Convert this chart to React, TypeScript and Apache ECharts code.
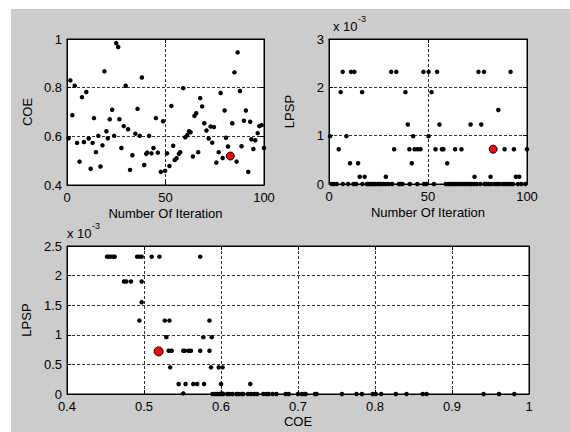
import React, { useEffect, useRef } from "react";
import * as echarts from "echarts";

// ---------- data ----------
// COE of each iteration (iteration, COE)
const coeByIteration: [number, number][] = [
  [0.8, 0.592], [1.7, 0.83], [2.7, 0.687], [3.9, 0.808], [5.1, 0.573], [6.4, 0.496],
  [7.6, 0.761], [8.6, 0.577], [9.8, 0.782], [11, 0.591], [12, 0.467], [13, 0.573],
  [13.7, 0.675], [14.7, 0.535], [15.9, 0.602], [17, 0.476], [18, 0.563], [19, 0.867],
  [20, 0.621], [20.7, 0.592], [21.7, 0.67], [22.9, 0.709], [23.9, 0.602], [25, 0.983],
  [26, 0.967], [26.6, 0.67], [27.6, 0.552], [28.8, 0.642], [29.8, 0.808], [31, 0.629],
  [32, 0.462], [33.2, 0.522], [34.7, 0.611], [35.8, 0.713], [36.9, 0.602], [38, 0.842],
  [39.2, 0.482], [40.2, 0.528], [40.7, 0.533], [41.7, 0.602], [42.9, 0.53], [43.9, 0.552],
  [45.1, 0.675], [46.1, 0.533], [47.6, 0.454], [48.8, 0.662], [49.8, 0.458], [50.8, 0.53],
  [52, 0.478], [53, 0.725], [53.9, 0.561], [54.7, 0.503], [55.6, 0.51], [56.8, 0.528],
  [57.5, 0.535], [59, 0.798], [60, 0.596], [61, 0.605], [62, 0.621], [62.7, 0.617],
  [63.9, 0.517], [64.7, 0.684], [65.6, 0.695], [66.6, 0.535], [67.6, 0.757], [68.6, 0.723],
  [69.7, 0.654], [70.8, 0.624], [71.9, 0.591], [72.9, 0.64], [73.7, 0.574], [74.6, 0.638],
  [75.8, 0.492], [77, 0.535], [78, 0.778], [79, 0.511], [80, 0.706], [80.7, 0.594],
  [81.7, 0.558], [83.9, 0.654], [85, 0.863], [86.1, 0.496], [86.6, 0.945], [87.8, 0.786],
  [88.6, 0.559], [89.8, 0.664], [90.8, 0.706], [92, 0.454], [93, 0.66], [93.6, 0.588],
  [94.6, 0.548], [95.6, 0.584], [96.8, 0.613], [97.6, 0.642], [98.8, 0.646], [100, 0.552],
];

// LPSP (x 10^-3) of each iteration (iteration, LPSP)
const lpspByIteration: [number, number][] = [
  [6.9, 2.32], [11.1, 2.32], [12.8, 2.32], [31.4, 2.32], [34, 2.32], [47.7, 2.32],
  [50.3, 2.32], [54.6, 2.32], [75.5, 2.32], [78.3, 2.32], [91.7, 2.32],
  [5.9, 1.9], [16.7, 1.9], [38.6, 1.9], [51.8, 1.9],
  [85.5, 1.53],
  [39.8, 1.23], [55.8, 1.23], [71.5, 1.23], [76.9, 1.23],
  [0.5, 0.99], [8.8, 0.99], [42.5, 0.99], [50.3, 0.99],
  [4.9, 0.72], [32.9, 0.72], [40.6, 0.72], [43.2, 0.72], [44.7, 0.72], [46.2, 0.72],
  [53.8, 0.72], [57, 0.72], [57.8, 0.72], [63.7, 0.72], [66.9, 0.72], [88.7, 0.72],
  [93.4, 0.72], [100, 0.72],
  [10.6, 0.43], [14.7, 0.43], [41.8, 0.43], [59.7, 0.43],
  [15.5, 0.15], [18, 0.15], [28.7, 0.15], [73.5, 0.15], [81.6, 0.15], [94.4, 0.15], [96.1, 0.15],
  [1.4, 0], [2.5, 0], [3.9, 0], [7, 0], [9.7, 0], [12.4, 0], [13.7, 0], [16.9, 0],
  [19.2, 0], [20, 0], [20.8, 0], [21.7, 0], [22.5, 0], [23.4, 0], [24.6, 0], [25.6, 0],
  [26.4, 0], [27.6, 0], [28.8, 0], [30.2, 0], [31.9, 0], [35.3, 0], [36.1, 0], [37.1, 0],
  [40.8, 0], [44.6, 0], [48, 0], [49.2, 0], [53, 0], [59, 0], [60.2, 0], [61.2, 0],
  [62.4, 0], [63.2, 0], [64.2, 0], [65.3, 0], [66.3, 0], [67.5, 0], [68.6, 0], [70, 0],
  [71.2, 0], [72, 0], [73.4, 0], [74.6, 0], [76.4, 0], [78.5, 0], [79.7, 0], [80.7, 0],
  [81.9, 0], [83.6, 0], [84.7, 0], [86.1, 0], [87.8, 0], [89.1, 0], [90.3, 0], [91.7, 0],
  [92.9, 0], [95.4, 0], [97.1, 0], [99.2, 0],
];

// LPSP (x 10^-3) against COE (COE, LPSP)
const lpspByCoe: [number, number][] = [
  [0.452, 2.32], [0.454, 2.32], [0.457, 2.32], [0.46, 2.32], [0.462, 2.32], [0.491, 2.32],
  [0.494, 2.32], [0.497, 2.32], [0.51, 2.32], [0.52, 2.32], [0.573, 2.32],
  [0.474, 1.9], [0.477, 1.9], [0.483, 1.9], [0.497, 1.9],
  [0.497, 1.55],
  [0.494, 1.24], [0.527, 1.24], [0.533, 1.24], [0.585, 1.24],
  [0.529, 0.96], [0.577, 0.96], [0.588, 0.96],
  [0.532, 0.73], [0.536, 0.73], [0.551, 0.73], [0.553, 0.73], [0.558, 0.73], [0.561, 0.73],
  [0.573, 0.73], [0.585, 0.73],
  [0.534, 0.45], [0.587, 0.45], [0.597, 0.45], [0.602, 0.45],
  [0.545, 0.17], [0.554, 0.17], [0.564, 0.17], [0.569, 0.17], [0.578, 0.17], [0.6, 0.17], [0.638, 0.17],
  [0.551, 0.01], [0.601, 0.01],
  [0.589, 0], [0.592, 0], [0.595, 0], [0.598, 0], [0.601, 0], [0.603, 0], [0.608, 0],
  [0.611, 0], [0.615, 0], [0.62, 0], [0.623, 0], [0.627, 0], [0.629, 0], [0.635, 0],
  [0.639, 0], [0.643, 0], [0.647, 0], [0.655, 0], [0.659, 0], [0.662, 0], [0.667, 0],
  [0.672, 0], [0.684, 0], [0.688, 0], [0.7, 0], [0.705, 0], [0.708, 0], [0.71, 0],
  [0.722, 0], [0.724, 0], [0.757, 0], [0.776, 0], [0.783, 0], [0.797, 0], [0.801, 0],
  [0.808, 0], [0.827, 0], [0.841, 0], [0.862, 0], [0.867, 0], [0.941, 0], [0.961, 0], [0.981, 0],
];

// best solution
const bestIteration = 82.9;
const bestCoe = 0.519;
const bestLpsp = 0.72; // x 10^-3

// axis ranges
const iterationRange = { min: 0, max: 100, interval: 50 };
const coeRange = { min: 0.4, max: 1, interval: 0.2 };
const lpspTopRange = { min: 0, max: 3, interval: 1 };
const coeBottomRange = { min: 0.4, max: 1, interval: 0.1 };
const lpspBottomRange = { min: 0, max: 2.5, interval: 0.5 };

const FONT = "'Liberation Sans', Arial, Helvetica, sans-serif";
const FS = 13;

const fmt = (v: number) => String(Math.round(v * 10) / 10);

function mainAxis(range: any, gridIndex: number, name: string, isY: boolean, nameGap: number) {
  return {
    type: "value",
    gridIndex,
    position: isY ? "left" : "bottom",
    min: range.min,
    max: range.max,
    interval: range.interval,
    name,
    nameLocation: "middle",
    nameGap,
    nameTextStyle: { color: "#000", fontFamily: FONT, fontSize: FS },
    axisLine: { show: true, onZero: false, lineStyle: { color: "#000", width: 1 } },
    axisTick: { show: true, inside: true, length: 4, lineStyle: { color: "#000" } },
    axisLabel: { color: "#000", fontFamily: FONT, fontSize: FS, margin: isY ? 5 : 6, formatter: fmt },
    splitLine: { show: true, lineStyle: { color: "#333", type: [3, 2], width: 1 } },
  };
}

function mirrorAxis(range: any, gridIndex: number, isY: boolean) {
  return {
    type: "value",
    gridIndex,
    position: isY ? "right" : "top",
    min: range.min,
    max: range.max,
    interval: range.interval,
    axisLine: { show: true, onZero: false, lineStyle: { color: "#000", width: 1 } },
    axisTick: { show: true, inside: true, length: 4, lineStyle: { color: "#000" } },
    axisLabel: { show: false },
    splitLine: { show: false },
  };
}

const dotStyle = { color: "#000", opacity: 1 };
const bestStyle = { color: "#ff0000", borderColor: "#000", borderWidth: 1, opacity: 1 };

export default function App() {
  const ref = useRef<HTMLDivElement>(null);
  useEffect(() => {
    if (!ref.current) return;
    const chart = echarts.init(ref.current, undefined, { renderer: "svg" });
    chart.setOption({
      animation: false,
      backgroundColor: "transparent",
      grid: [
        { left: 67, top: 39, width: 197, height: 146, show: true, backgroundColor: "#fff", borderColor: "#000", borderWidth: 1 },
        { left: 329, top: 39, width: 198, height: 145, show: true, backgroundColor: "#fff", borderColor: "#000", borderWidth: 1 },
        { left: 67, top: 246, width: 462, height: 148, show: true, backgroundColor: "#fff", borderColor: "#000", borderWidth: 1 },
      ],
      xAxis: [
        mainAxis(iterationRange, 0, "Number Of Iteration", false, 22),
        mainAxis(iterationRange, 1, "Number Of Iteration", false, 22),
        mainAxis(coeBottomRange, 2, "COE", false, 21),
        mirrorAxis(iterationRange, 0, false),
        mirrorAxis(iterationRange, 1, false),
        mirrorAxis(coeBottomRange, 2, false),
      ],
      yAxis: [
        mainAxis(coeRange, 0, "COE", true, 33),
        mainAxis(lpspTopRange, 1, "LPSP", true, 33),
        mainAxis(lpspBottomRange, 2, "LPSP", true, 33),
        mirrorAxis(coeRange, 0, true),
        mirrorAxis(lpspTopRange, 1, true),
        mirrorAxis(lpspBottomRange, 2, true),
      ],
      series: [
        { type: "scatter", xAxisIndex: 0, yAxisIndex: 0, data: coeByIteration, symbol: "circle", symbolSize: 4.5, itemStyle: dotStyle },
        { type: "scatter", xAxisIndex: 0, yAxisIndex: 0, data: [[bestIteration, bestCoe]], symbol: "circle", symbolSize: 8, itemStyle: bestStyle, z: 3 },
        { type: "scatter", xAxisIndex: 1, yAxisIndex: 1, data: lpspByIteration, symbol: "circle", symbolSize: 4.5, itemStyle: dotStyle },
        { type: "scatter", xAxisIndex: 1, yAxisIndex: 1, data: [[bestIteration, bestLpsp]], symbol: "circle", symbolSize: 8, itemStyle: bestStyle, z: 3 },
        { type: "scatter", xAxisIndex: 2, yAxisIndex: 2, data: lpspByCoe, symbol: "circle", symbolSize: 4.5, itemStyle: dotStyle },
        { type: "scatter", xAxisIndex: 2, yAxisIndex: 2, data: [[bestCoe, bestLpsp]], symbol: "circle", symbolSize: 9, itemStyle: bestStyle, z: 3 },
      ],
      graphic: [
        { type: "text", left: 333, top: 20, style: { text: "x 10", fill: "#000", font: `${FS}px ${FONT}` } },
        { type: "text", left: 358, top: 14, style: { text: "-3", fill: "#000", font: `9px ${FONT}` } },
        { type: "text", left: 67, top: 227, style: { text: "x 10", fill: "#000", font: `${FS}px ${FONT}` } },
        { type: "text", left: 92, top: 221, style: { text: "-3", fill: "#000", font: `9px ${FONT}` } },
      ],
    });
    return () => chart.dispose();
  }, []);
  return (
    <div style={{ position: "fixed", left: 0, top: 0, width: 570, height: 432, background: "#fff" }}>
      <div style={{ position: "absolute", left: 11, top: 9, right: 0, bottom: 0, background: "#cccccc" }} />
      <div ref={ref} style={{ position: "absolute", left: 0, top: 0, width: 570, height: 432 }} />
    </div>
  );
}
